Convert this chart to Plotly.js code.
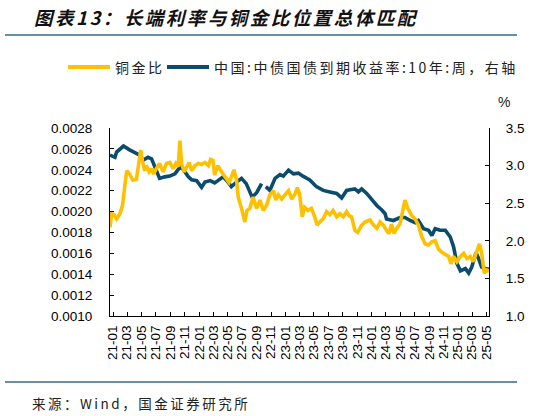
<!DOCTYPE html>
<html>
<head>
<meta charset="utf-8">
<script src="https://cdn.plot.ly/plotly-3.0.1.min.js"></script>
<style>
  html, body { margin: 0; padding: 0; background: #fff; }
  #chart { width: 559px; height: 416px; }
  .annotation-text { letter-spacing: 2.5px; }
</style>
</head>
<body>
<div id="chart"></div>
<script>
// ---- data ----
const tickLabels = ['21-01','21-03','21-05','21-07','21-09','21-11','22-01','22-03','22-05','22-07','22-09','22-11',
  '23-01','23-03','23-05','23-07','23-09','23-11','24-01','24-03','24-05','24-07','24-09','24-11','25-01','25-03','25-05'];

const ratioName = '铜金比';
const ratioDates = ['2020-12-19','2020-12-26','2021-01-05','2021-01-16','2021-01-30','2021-02-10','2021-02-21','2021-02-28',
  '2021-03-12','2021-03-26','2021-04-10','2021-04-21','2021-04-28','2021-05-05','2021-05-15','2021-05-22','2021-06-03',
  '2021-06-13','2021-06-22','2021-07-03','2021-07-17','2021-08-01','2021-08-15','2021-08-29','2021-09-13','2021-09-24',
  '2021-10-04','2021-10-11','2021-10-18','2021-10-29','2021-11-09','2021-11-19','2021-11-30','2021-12-14','2021-12-28',
  '2022-01-11','2022-01-25','2022-02-09','2022-02-18','2022-02-28','2022-03-07','2022-03-21','2022-04-05','2022-04-19',
  '2022-05-07','2022-05-17','2022-05-28','2022-06-08','2022-06-15','2022-06-29','2022-07-13','2022-07-22','2022-08-03',
  '2022-08-17','2022-09-01','2022-09-15','2022-09-29','2022-10-13','2022-10-27','2022-11-11','2022-11-21','2022-12-02',
  '2022-12-16','2022-12-30','2023-01-14','2023-01-28','2023-02-11','2023-02-20','2023-03-02','2023-03-13','2023-03-23',
  '2023-04-07','2023-04-21','2023-05-05','2023-05-15','2023-05-26','2023-06-10','2023-06-24','2023-07-08','2023-07-22',
  '2023-08-06','2023-08-19','2023-09-03','2023-09-17','2023-09-28','2023-10-08','2023-10-22','2023-11-03','2023-11-20',
  '2023-12-04','2023-12-25','2024-01-09','2024-01-23','2024-02-06','2024-02-20','2024-03-04','2024-03-15','2024-03-25',
  '2024-04-05','2024-04-16','2024-04-30','2024-05-11','2024-05-21','2024-05-31','2024-06-19','2024-07-03','2024-07-17',
  '2024-07-31','2024-08-15','2024-08-29','2024-09-12','2024-09-26','2024-10-10','2024-10-24','2024-11-12','2024-11-22',
  '2024-12-02','2024-12-13','2024-12-27','2025-01-11','2025-01-25','2025-02-08','2025-02-22','2025-03-07','2025-03-18',
  '2025-04-02','2025-04-11','2025-04-22','2025-05-02','2025-05-12'];
const ratioValues = [0.00185,0.00198,0.00197,0.00193,0.00198,0.00206,0.00227,0.00239,
  0.00236,0.00230,0.00231,0.00252,0.00259,0.00249,0.00239,0.00244,0.00238,
  0.00241,0.00236,0.00241,0.00246,0.00238,0.00246,0.00247,0.00241,0.00246,
  0.00243,0.00268,0.00246,0.00238,0.00243,0.00247,0.00239,0.00244,0.00246,
  0.00245,0.00247,0.00244,0.00250,0.00249,0.00235,0.00244,0.00238,0.00233,
  0.00228,0.00233,0.00240,0.00230,0.00214,0.00203,0.00190,0.00201,0.00203,
  0.00214,0.00203,0.00211,0.00201,0.00206,0.00216,0.00220,0.00211,0.00216,
  0.00212,0.00216,0.00220,0.00212,0.00217,0.00223,0.00217,0.00195,0.00204,
  0.00201,0.00203,0.00195,0.00187,0.00190,0.00193,0.00200,0.00197,0.00201,
  0.00195,0.00198,0.00195,0.00200,0.00196,0.00195,0.00182,0.00180,0.00187,
  0.00190,0.00192,0.00187,0.00184,0.00190,0.00187,0.00182,0.00179,0.00188,
  0.00179,0.00184,0.00188,0.00200,0.00211,0.00204,0.00196,0.00193,0.00187,
  0.00176,0.00169,0.00168,0.00171,0.00172,0.00164,0.00161,0.00158,0.00157,
  0.00150,0.00157,0.00152,0.00157,0.00160,0.00155,0.00157,0.00152,0.00160,
  0.00169,0.00160,0.00141,0.00144,0.00143];

const yieldName = '中国:中债国债到期收益率:10年:周，右轴';
const yieldDates = ['2020-12-19','2021-01-09','2021-01-16','2021-02-14','2021-03-12','2021-04-03','2021-04-24','2021-05-08',
  '2021-05-29','2021-06-13','2021-06-27','2021-07-17','2021-08-08','2021-08-29','2021-09-20','2021-10-11','2021-10-25',
  '2021-11-16','2021-11-30','2021-12-21','2022-01-11','2022-01-25','2022-02-16','2022-03-07','2022-03-21','2022-04-12',
  '2022-05-03','2022-05-17','2022-06-08','2022-06-29','2022-07-19','2022-08-13','2022-09-01','2022-09-22','2022-09-30',
  '2022-10-10','2022-10-27','2022-11-18','2022-12-09','2022-12-23','2023-01-14','2023-02-04','2023-02-25','2023-03-16',
  '2023-04-14','2023-05-12','2023-06-10','2023-07-08','2023-08-06','2023-08-27','2023-09-17','2023-10-01','2023-10-22',
  '2023-11-06','2023-11-20','2023-12-11','2024-01-02','2024-01-23','2024-02-13','2024-02-27','2024-03-04','2024-04-02',
  '2024-04-30','2024-05-21','2024-06-12','2024-07-03','2024-07-17','2024-08-08','2024-08-29','2024-09-12','2024-09-26',
  '2024-10-17','2024-11-08','2024-11-29','2024-12-13','2024-12-27','2025-01-11','2025-02-01','2025-02-15','2025-02-28',
  '2025-03-18','2025-03-27','2025-04-11','2025-04-25','2025-05-12'];
const yieldValues = [3.14,3.11,3.18,3.26,3.21,3.17,3.14,3.07,
  3.11,3.09,2.98,2.83,2.85,2.86,2.89,2.98,2.95,
  2.85,2.81,2.80,2.71,2.78,2.80,2.77,2.80,2.85,
  2.78,2.72,2.78,2.83,2.76,2.58,2.64,2.76,null,
  2.72,2.67,2.83,2.88,2.86,2.94,2.89,2.90,2.86,
  2.81,2.72,2.67,2.65,2.63,2.57,2.67,2.68,2.69,
  2.65,2.69,2.63,2.54,2.47,2.41,2.36,2.29,2.27,
  2.31,2.31,2.27,2.24,2.27,2.16,2.14,2.07,2.16,
  2.14,2.14,2.05,1.92,1.70,1.60,1.63,1.57,1.65,
  1.84,1.78,1.65,1.63,1.62];

// ---- chart ----
const W = 559, H = 416, L = 110, R = 70, T = 128, B = 100;
const pw = W - L - R, ph = H - T - B;
const px = x => (x - L) / pw;          // pixel -> paper x
const py = y => (H - B - y) / ph;      // pixel -> paper y

const YELLOW = '#FFC000', BLUE = '#0B4C6E';
const tickFont = {family: 'Liberation Sans, Arial, sans-serif', size: 13.5, color: '#000'};
const cjk = 'Noto Sans CJK SC, sans-serif';

const traces = [
  {x: yieldDates, y: yieldValues, name: yieldName, type: 'scatter', mode: 'lines',
   line: {color: BLUE, width: 3.6}, connectgaps: false, yaxis: 'y'},
  {x: ratioDates, y: ratioValues, name: ratioName, type: 'scatter', mode: 'lines',
   line: {color: YELLOW, width: 3.6}, yaxis: 'y2'}
];

const layout = {
  width: W, height: H,
  margin: {l: L, r: R, t: T, b: B, pad: 0},
  paper_bgcolor: '#fff', plot_bgcolor: '#fff',
  showlegend: false,
  xaxis: {
    type: 'date', range: ['2020-12-19', '2025-05-12'],
    tickmode: 'array',
    tickvals: tickLabels.map(t => '20' + t + '-01'),
    ticktext: tickLabels,
    tickangle: -90, tickfont: tickFont,
    ticks: 'inside', ticklen: 4, tickwidth: 1, tickcolor: '#000',
    showline: true, linecolor: '#000', linewidth: 1,
    showgrid: false, zeroline: false, ticklabelstandoff: 3
  },
  yaxis: {
    side: 'right', range: [1.0, 3.5], dtick: 0.5, tick0: 1, tickformat: '.1f',
    tickfont: tickFont, ticks: 'inside', ticklen: 4, tickwidth: 1, tickcolor: '#000',
    showline: true, linecolor: '#000', linewidth: 1,
    showgrid: false, zeroline: false, ticklabelstandoff: 13
  },
  yaxis2: {
    overlaying: 'y', side: 'left', range: [0.0010, 0.0028], dtick: 0.0002, tick0: 0.001, tickformat: '.4f',
    tickfont: tickFont, ticks: 'inside', ticklen: 4, tickwidth: 1, tickcolor: '#000',
    showline: true, linecolor: '#000', linewidth: 1,
    showgrid: false, zeroline: false, ticklabelstandoff: 14
  },
  shapes: [
    {type: 'line', xref: 'paper', yref: 'paper', x0: px(5), x1: px(517), y0: py(35), y1: py(35),
     line: {color: '#336B8C', width: 1.6}},
    {type: 'line', xref: 'paper', yref: 'paper', x0: px(5), x1: px(517), y0: py(382), y1: py(382),
     line: {color: '#336B8C', width: 1.6}},
    {type: 'line', xref: 'paper', yref: 'paper', x0: px(68), x1: px(110), y0: py(67), y1: py(67),
     line: {color: YELLOW, width: 4}},
    {type: 'line', xref: 'paper', yref: 'paper', x0: px(167), x1: px(209), y0: py(67), y1: py(67),
     line: {color: BLUE, width: 4}}
  ],
  annotations: [
    {text: '<b><i>图表13：长端利率与铜金比位置总体匹配</i></b>', xref: 'paper', yref: 'paper',
     x: px(32), y: py(17), xanchor: 'left', yanchor: 'middle', align: 'left', showarrow: false,
     font: {family: cjk, size: 18.5, color: '#111'}},
    {text: ratioName, xref: 'paper', yref: 'paper', x: px(113), y: py(67), xanchor: 'left', yanchor: 'middle',
     align: 'left', showarrow: false, font: {family: cjk, size: 14, color: '#222'}},
    {text: yieldName, xref: 'paper', yref: 'paper', x: px(212), y: py(67), xanchor: 'left', yanchor: 'middle',
     align: 'left', showarrow: false, font: {family: cjk, size: 14, color: '#222'}},
    {text: '%', xref: 'paper', yref: 'paper', x: px(496), y: py(102), xanchor: 'left', yanchor: 'middle',
     align: 'left', showarrow: false, font: {family: 'Liberation Sans, Arial, sans-serif', size: 14, color: '#222'}},
    {text: '来源：Wind，国金证券研究所', xref: 'paper', yref: 'paper', x: px(30), y: py(403), xanchor: 'left', yanchor: 'middle',
     align: 'left', showarrow: false, font: {family: cjk, size: 13.5, color: '#222'}}
  ]
};

Plotly.newPlot('chart', traces, layout, {staticPlot: true, displayModeBar: false});
</script>
</body>
</html>
